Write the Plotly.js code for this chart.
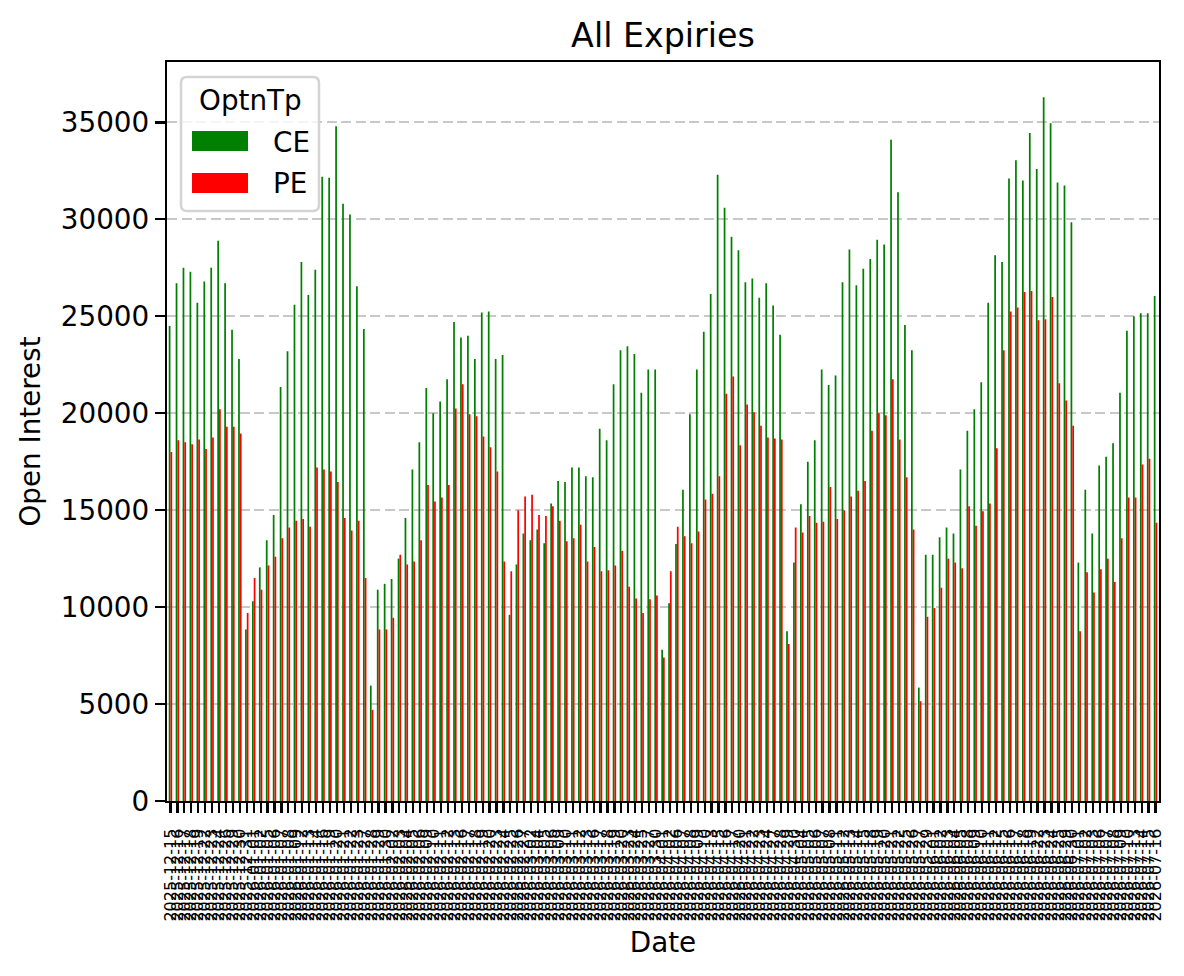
<!DOCTYPE html>
<html>
<head>
<meta charset="utf-8">
<script src="https://cdn.plot.ly/plotly-3.0.1.min.js"></script>
<style>
  html, body { margin: 0; padding: 0; background: #ffffff; }
  #chart { width: 1184px; height: 976px; }
</style>
</head>
<body>
<div id="chart"></div>
<script>
// ---- Data ----
const dates = [
  "2025-12-15","2025-12-16","2025-12-17","2025-12-18","2025-12-19","2025-12-22","2025-12-23","2025-12-24","2025-12-26","2025-12-29","2025-12-30","2025-12-31",
  "2026-01-01","2026-01-02","2026-01-05","2026-01-06","2026-01-07","2026-01-08","2026-01-09","2026-01-12","2026-01-13","2026-01-14","2026-01-16","2026-01-19","2026-01-20","2026-01-21","2026-01-22","2026-01-23","2026-01-27","2026-01-28","2026-01-29","2026-01-30",
  "2026-02-02","2026-02-03","2026-02-04","2026-02-05","2026-02-06","2026-02-09","2026-02-10","2026-02-11","2026-02-12","2026-02-13","2026-02-16","2026-02-17","2026-02-18","2026-02-19","2026-02-20","2026-02-23","2026-02-24","2026-02-25","2026-02-26","2026-02-27",
  "2026-03-02","2026-03-04","2026-03-05","2026-03-06","2026-03-09","2026-03-10","2026-03-11","2026-03-12","2026-03-13","2026-03-16","2026-03-17","2026-03-18","2026-03-19","2026-03-20","2026-03-23","2026-03-24","2026-03-25","2026-03-27","2026-03-30",
  "2026-04-01","2026-04-02","2026-04-06","2026-04-07","2026-04-08","2026-04-09","2026-04-10","2026-04-13","2026-04-15","2026-04-16","2026-04-17","2026-04-20","2026-04-21","2026-04-22","2026-04-23","2026-04-24","2026-04-27","2026-04-28","2026-04-29","2026-04-30",
  "2026-05-04","2026-05-05","2026-05-06","2026-05-07","2026-05-08","2026-05-11","2026-05-12","2026-05-13","2026-05-14","2026-05-15","2026-05-18","2026-05-19","2026-05-20","2026-05-21","2026-05-22","2026-05-25","2026-05-26","2026-05-27","2026-05-29",
  "2026-06-01","2026-06-02","2026-06-03","2026-06-04","2026-06-05","2026-06-08","2026-06-09","2026-06-10","2026-06-11","2026-06-12","2026-06-15","2026-06-16","2026-06-17","2026-06-18","2026-06-19","2026-06-22","2026-06-23","2026-06-24","2026-06-25","2026-06-29","2026-06-30",
  "2026-07-01","2026-07-02","2026-07-03","2026-07-06","2026-07-07","2026-07-08","2026-07-09","2026-07-10","2026-07-13","2026-07-14","2026-07-15","2026-07-16"
];

const ceValues = [
  24500, 26700, 27500, 27300, 25700, 26800, 27500, 28900, 26700, 24300, 22800,
  8850, 10300, 12050, 13450, 14750, 21350, 23200, 25600, 27800, 26100,
  27400, 32200, 32150, 34800, 30800, 30250, 26550, 24350,
  5950, 10900, 11200, 11450, 12500, 14600, 17100, 18500, 21300, 20000,
  20600, 21750, 24700, 23900, 24000, 22800, 25200, 25250, 22800, 23000,
  9600, 12200, 13800, 13450, 14000, 13300, 15350, 16500, 16450,
  17200, 17200, 16750, 16700, 19200, 18600, 21500, 23250, 23450, 23050,
  21050, 22250, 22250, 7800, 10200, 13250, 16050, 19950, 22250, 24200,
  26150, 32300, 30600, 29100, 28400, 26750, 26950, 25950, 26700,
  25550, 24050, 8750, 12300, 15300, 17500, 18600, 22250, 21450, 21950,
  26750, 28450, 26600, 27450, 27950, 28950, 28700, 34100, 31400, 24550,
  23250, 5850, 12700, 12700, 13600, 14100, 13800, 17100, 19100,
  20200, 21600, 25700, 28150, 27800, 32100, 33050, 32000, 34450, 32600,
  36300, 34950, 31900, 31750, 29850, 12300, 16050, 13800, 17300, 17750,
  18450, 21050, 24250, 25000, 25150, 25150, 26050
];

const peValues = [
  18000, 18600, 18500, 18400, 18650, 18150, 18750, 20200, 19300, 19300, 18950,
  9700, 11500, 10900, 12150, 12600, 13550, 14100, 14450, 14550, 14150,
  17200, 17100, 17000, 16450, 14600, 13950, 14450, 11500,
  4700, 8850, 8850, 9450, 12700, 12200, 12350, 13450, 16300, 15450,
  15650, 16300, 20250, 21500, 19950, 19850, 18800, 18250, 17000, 12350,
  11850, 15000, 15700, 15800, 14750, 14700, 15200, 14450, 13400,
  13550, 14250, 12350, 13100, 11850, 11900, 12150, 12900, 11050, 10450,
  9700, 10400, 10600, 7400, 11850, 14150, 13650, 13300, 13900, 15550,
  15850, 16750, 21000, 21900, 18350, 20450, 20050, 19350, 18750,
  18700, 18650, 8100, 14100, 13850, 14700, 14350, 14400, 16200, 14550,
  15000, 15700, 16000, 16500, 19100, 20000, 19900, 21750, 18650, 16700,
  14000, 5150, 9500, 9950, 11000, 12500, 12300, 12000, 15200,
  14200, 14950, 15350, 18200, 23250, 25250, 25450, 26250, 26300, 24800,
  24850, 26000, 21550, 20650, 19350, 8750, 11800, 10750, 11950, 12500,
  11300, 13550, 15650, 15650, 17350, 17650, 14350
];

const seriesNames = ["CE", "PE"];
const seriesColors = ["#008000", "#ff0000"];
const yTicks = [0, 5000, 10000, 15000, 20000, 25000, 30000, 35000];

// ---- Layout geometry (pixels) ----
const W = 1184, H = 976;
const M = { l: 167, r: 25, t: 62, b: 175 };
const PW = W - M.l - M.r, PH = H - M.t - M.b;
const px2x = p => (p - M.l) / PW;
const px2y = p => (H - M.b - p) / PH;

const FONT = "DejaVu Sans, Liberation Sans, Arial, sans-serif";
const FS = 27.8;

const traces = [
  { type: "bar", name: seriesNames[0], x: dates, y: ceValues, marker: { color: seriesColors[0], line: { width: 0 } } },
  { type: "bar", name: seriesNames[1], x: dates, y: peValues, marker: { color: seriesColors[1], line: { width: 0 } } }
];

// legend frame (rounded rect) drawn in paper coords
const lx0 = 181, lx1 = 319, ly0 = 77, ly1 = 211, rr = 6;
function rrPath(x0, y0, x1, y1, r) {
  const X = px2x, Y = px2y;
  return `M ${X(x0 + r)} ${Y(y0)} L ${X(x1 - r)} ${Y(y0)} Q ${X(x1)} ${Y(y0)} ${X(x1)} ${Y(y0 + r)} ` +
         `L ${X(x1)} ${Y(y1 - r)} Q ${X(x1)} ${Y(y1)} ${X(x1 - r)} ${Y(y1)} ` +
         `L ${X(x0 + r)} ${Y(y1)} Q ${X(x0)} ${Y(y1)} ${X(x0)} ${Y(y1 - r)} ` +
         `L ${X(x0)} ${Y(y0 + r)} Q ${X(x0)} ${Y(y0)} ${X(x0 + r)} ${Y(y0)} Z`;
}

const shapes = [
  { type: "path", xref: "paper", yref: "paper", path: rrPath(lx0, ly0, lx1, ly1, rr),
    fillcolor: "rgba(255,255,255,0.8)", line: { color: "#d4d4d4", width: 2.5 }, layer: "above" },
  { type: "rect", xref: "paper", yref: "paper", x0: px2x(192), x1: px2x(248), y0: px2y(151), y1: px2y(131),
    fillcolor: seriesColors[0], line: { width: 0 }, layer: "above" },
  { type: "rect", xref: "paper", yref: "paper", x0: px2x(192), x1: px2x(248), y0: px2y(193), y1: px2y(173),
    fillcolor: seriesColors[1], line: { width: 0 }, layer: "above" }
];

const annotations = [
  { xref: "paper", yref: "paper", x: px2x(250), y: px2y(100), text: "OptnTp", showarrow: false,
    xanchor: "center", yanchor: "middle", font: { family: FONT, size: FS, color: "#000" } },
  { xref: "paper", yref: "paper", x: px2x(271), y: px2y(142), text: seriesNames[0], showarrow: false,
    xanchor: "left", yanchor: "middle", font: { family: FONT, size: FS, color: "#000" } },
  { xref: "paper", yref: "paper", x: px2x(271), y: px2y(183), text: seriesNames[1], showarrow: false,
    xanchor: "left", yanchor: "middle", font: { family: FONT, size: FS, color: "#000" } }
];

const layout = {
  width: W, height: H,
  margin: M,
  paper_bgcolor: "#ffffff", plot_bgcolor: "#ffffff",
  font: { family: FONT, color: "#000" },
  showlegend: false,
  barmode: "group", bargap: 0.5, bargroupgap: 0,
  title: { text: "All Expiries", font: { family: FONT, size: 33.3, color: "#000" },
           x: px2x(663), xref: "paper", xanchor: "center", y: 1 - 35 / H, yref: "container", yanchor: "middle" },
  xaxis: {
    type: "category", range: [-0.5, dates.length - 0.5], autorange: false,
    tickmode: "array", tickvals: dates, ticktext: dates, tickangle: -90,
    tickfont: { family: FONT, size: 16, color: "#000" },
    ticks: "outside", ticklen: 10, tickwidth: 2.2, tickcolor: "#000",
    ticklabelstandoff: 9,
    showline: true, linecolor: "#000", linewidth: 2.2, mirror: true,
    showgrid: false, zeroline: false, automargin: false,
    title: { text: "Date", font: { family: FONT, size: FS, color: "#000" }, standoff: 12 }
  },
  yaxis: {
    range: [0, 38115], autorange: false,
    tickmode: "array", tickvals: yTicks, ticktext: yTicks.map(v => String(v)),
    tickfont: { family: FONT, size: FS, color: "#000" },
    ticks: "outside", ticklen: 10, tickwidth: 2.2, tickcolor: "#000",
    showline: true, linecolor: "#000", linewidth: 2.2, mirror: true,
    showgrid: true, gridcolor: "#c8c8c8", gridwidth: 2, griddash: "10px,4.5px",
    zeroline: false, automargin: false,
    title: { text: "Open Interest", font: { family: FONT, size: FS, color: "#000" }, standoff: 12 }
  },
  shapes: shapes,
  annotations: annotations
};

Plotly.newPlot("chart", traces, layout, { staticPlot: true, displayModeBar: false });
</script>
</body>
</html>
